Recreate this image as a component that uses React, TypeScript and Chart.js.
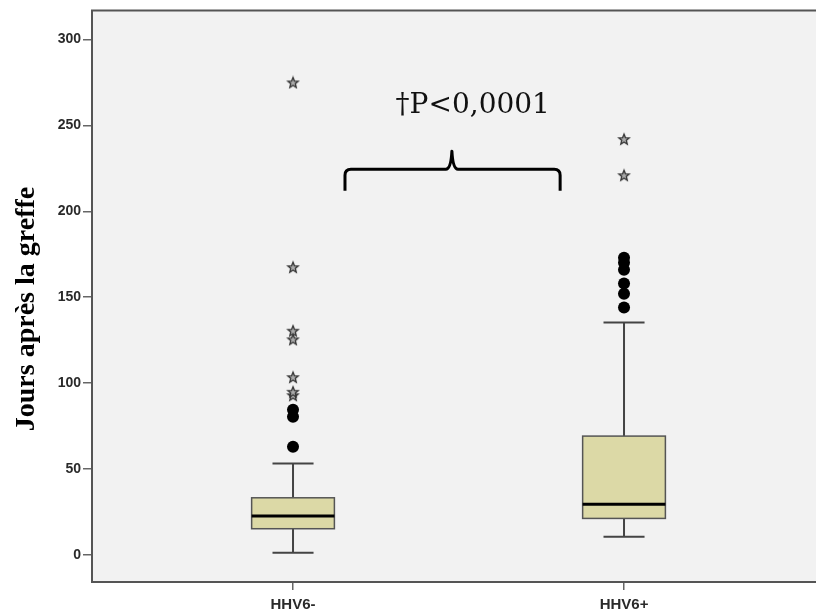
import React, { useEffect, useRef } from "react";
import { Chart, registerables } from "chart.js";

Chart.register(...registerables);

const categories = ["HHV6-", "HHV6+"];
const q1 = [15.3, 21.3];
const median = [22.7, 29.5];
const q3 = [33.3, 69.2];
const whiskerLow = [1.3, 10.7];
const whiskerHigh = [53.3, 135.3];
const outlierCircles = [
  [63, 80.5, 84.5],
  [144, 152, 158, 166, 170, 173],
];
const outlierStars = [
  [93, 95, 103.5, 125.5, 130.5, 167.5, 275],
  [221, 242],
];
const yTicks = [0, 50, 100, 150, 200, 250, 300];
const yTitle = "Jours après la greffe";
const pLabel = "†P<0,0001";

function makeStar(): HTMLCanvasElement {
  const c = document.createElement("canvas");
  const s = 14;
  c.width = s;
  c.height = s;
  const ctx = c.getContext("2d")!;
  const cx = s / 2, cy = s / 2 + 0.5;
  const R = 5.5, r = 2.4;
  ctx.beginPath();
  for (let i = 0; i < 10; i++) {
    const a = -Math.PI / 2 + (i * Math.PI) / 5;
    const rad = i % 2 === 0 ? R : r;
    const x = cx + rad * Math.cos(a);
    const y = cy + rad * Math.sin(a);
    if (i === 0) ctx.moveTo(x, y);
    else ctx.lineTo(x, y);
  }
  ctx.closePath();
  ctx.fillStyle = "#aaa";
  ctx.fill();
  ctx.strokeStyle = "#333";
  ctx.lineWidth = 1.3;
  ctx.stroke();
  return c;
}

const boxPlugin = {
  id: "boxPlugin",
  beforeDraw(chart: any) {
    const { ctx, chartArea } = chart;
    ctx.save();
    ctx.fillStyle = "#f2f2f2";
    ctx.fillRect(chartArea.left, chartArea.top, chartArea.right - chartArea.left, chartArea.bottom - chartArea.top);
    ctx.restore();
  },
  beforeDatasetsDraw(chart: any) {
    const { ctx } = chart;
    const xs = chart.scales.x;
    const ys = chart.scales.y;
    const boxHalf = 0.125;
    const capHalf = 0.062;
    ctx.save();
    categories.forEach((_, i) => {
      const xl = xs.getPixelForValue(i - boxHalf);
      const xr = xs.getPixelForValue(i + boxHalf);
      const xc = xs.getPixelForValue(i);
      const cl = xs.getPixelForValue(i - capHalf);
      const cr = xs.getPixelForValue(i + capHalf);
      const yq1 = ys.getPixelForValue(q1[i]);
      const yq3 = ys.getPixelForValue(q3[i]);
      const ym = ys.getPixelForValue(median[i]);
      const ylo = ys.getPixelForValue(whiskerLow[i]);
      const yhi = ys.getPixelForValue(whiskerHigh[i]);
      ctx.strokeStyle = "#444";
      ctx.lineWidth = 2;
      ctx.beginPath();
      ctx.moveTo(xc, yq3);
      ctx.lineTo(xc, yhi);
      ctx.moveTo(cl, yhi);
      ctx.lineTo(cr, yhi);
      ctx.moveTo(xc, yq1);
      ctx.lineTo(xc, ylo);
      ctx.moveTo(cl, ylo);
      ctx.lineTo(cr, ylo);
      ctx.stroke();
      ctx.fillStyle = "#dcd9a6";
      ctx.fillRect(xl, yq3, xr - xl, yq1 - yq3);
      ctx.lineWidth = 1.5;
      ctx.strokeStyle = "#555";
      ctx.strokeRect(xl, yq3, xr - xl, yq1 - yq3);
      ctx.strokeStyle = "#000";
      ctx.lineWidth = 3;
      ctx.beginPath();
      ctx.moveTo(xl, ym);
      ctx.lineTo(xr, ym);
      ctx.stroke();
    });
    ctx.restore();
  },
  afterDraw(chart: any) {
    const { ctx, chartArea } = chart;
    const xs = chart.scales.x;
    const ys = chart.scales.y;
    ctx.save();
    ctx.strokeStyle = "#555";
    ctx.lineWidth = 2;
    ctx.beginPath();
    ctx.moveTo(chartArea.right + 4, chartArea.top);
    ctx.lineTo(chartArea.left, chartArea.top);
    ctx.lineTo(chartArea.left, chartArea.bottom);
    ctx.lineTo(chartArea.right + 4, chartArea.bottom);
    ctx.stroke();

    // bracket
    const x0 = xs.getPixelForValue(0.157);
    const x1 = xs.getPixelForValue(0.807);
    const xm = xs.getPixelForValue(0.48);
    const yb = ys.getPixelForValue(212);
    const yh = ys.getPixelForValue(224.5);
    const yp = ys.getPixelForValue(235);
    ctx.strokeStyle = "#000";
    ctx.lineWidth = 3;
    ctx.lineJoin = "round";
    ctx.beginPath();
    ctx.moveTo(x0, yb);
    ctx.lineTo(x0, yh + 6);
    ctx.quadraticCurveTo(x0, yh, x0 + 6, yh);
    ctx.lineTo(xm - 6, yh);
    ctx.quadraticCurveTo(xm - 1, yh, xm, yp);
    ctx.quadraticCurveTo(xm + 1, yh, xm + 6, yh);
    ctx.lineTo(x1 - 6, yh);
    ctx.quadraticCurveTo(x1, yh, x1, yh + 6);
    ctx.lineTo(x1, yb);
    ctx.stroke();

    ctx.fillStyle = "#111";
    ctx.font = "28px 'DejaVu Serif', 'Liberation Serif', serif";
    ctx.textAlign = "center";
    ctx.textBaseline = "middle";
    ctx.fillText(pLabel, xs.getPixelForValue(0.543), ys.getPixelForValue(261.5));

    // y title
    ctx.translate(27, 309);
    ctx.rotate(-Math.PI / 2);
    ctx.font = "bold 28px 'Liberation Serif', serif";
    ctx.fillStyle = "#000";
    ctx.fillText(yTitle, 0, 0);
    ctx.restore();
  },
};

export default function App() {
  const ref = useRef<HTMLCanvasElement | null>(null);
  useEffect(() => {
    if (!ref.current) return;
    const star = makeStar();
    const circleData: any[] = [];
    outlierCircles.forEach((arr, i) => arr.forEach((v) => circleData.push({ x: i, y: v })));
    const starData: any[] = [];
    outlierStars.forEach((arr, i) => arr.forEach((v) => starData.push({ x: i, y: v })));
    const chart = new Chart(ref.current, {
      type: "scatter",
      data: {
        datasets: [
          {
            label: "outliers",
            data: circleData,
            pointStyle: "circle",
            pointRadius: 6,
            backgroundColor: "#000",
            borderColor: "#000",
            borderWidth: 0,
          },
          {
            label: "extremes",
            data: starData,
            pointStyle: star as any,
            pointRadius: 7,
          },
        ],
      },
      options: {
        animation: false,
        responsive: false,
        maintainAspectRatio: false,
        layout: { autoPadding: false, padding: { left: 0, top: 10, right: 0, bottom: 0 } },
        plugins: { legend: { display: false }, tooltip: { enabled: false } },
        scales: {
          x: {
            type: "linear",
            min: -0.6073,
            max: 1.58,
            afterBuildTicks: (s: any) => {
              s.ticks = categories.map((_, i) => ({ value: i }));
            },
            afterFit: (s: any) => {
              s.height = 33;
            },
            border: { display: false },
            grid: { drawOnChartArea: false, tickLength: 8, color: "#666", lineWidth: 1.5 },
            ticks: {
              callback: (v: any) => categories[v as number] ?? "",
              color: "#2a2a2a",
              font: { family: "'Liberation Sans', Arial, sans-serif", size: 15, weight: "bold" },
              padding: 6,
              maxRotation: 0,
            },
          },
          y: {
            type: "linear",
            min: -15.7,
            max: 316.9,
            afterBuildTicks: (s: any) => {
              s.ticks = yTicks.map((v) => ({ value: v }));
            },
            afterFit: (s: any) => {
              s.width = 92;
            },
            border: { display: false },
            grid: { drawOnChartArea: false, tickLength: 9, color: "#666", lineWidth: 1.5 },
            ticks: {
              color: "#2a2a2a",
              font: { family: "'Liberation Sans', Arial, sans-serif", size: 14, weight: "bold" },
              padding: 2,
            },
          },
        },
      },
      plugins: [boxPlugin],
    });
    return () => chart.destroy();
  }, []);
  return (
    <div style={{ position: "fixed", left: 0, top: 0, width: 816, height: 615, background: "#fff" }}>
      <canvas ref={ref} width={816} height={615} style={{ width: 816, height: 615, display: "block" }} />
    </div>
  );
}
